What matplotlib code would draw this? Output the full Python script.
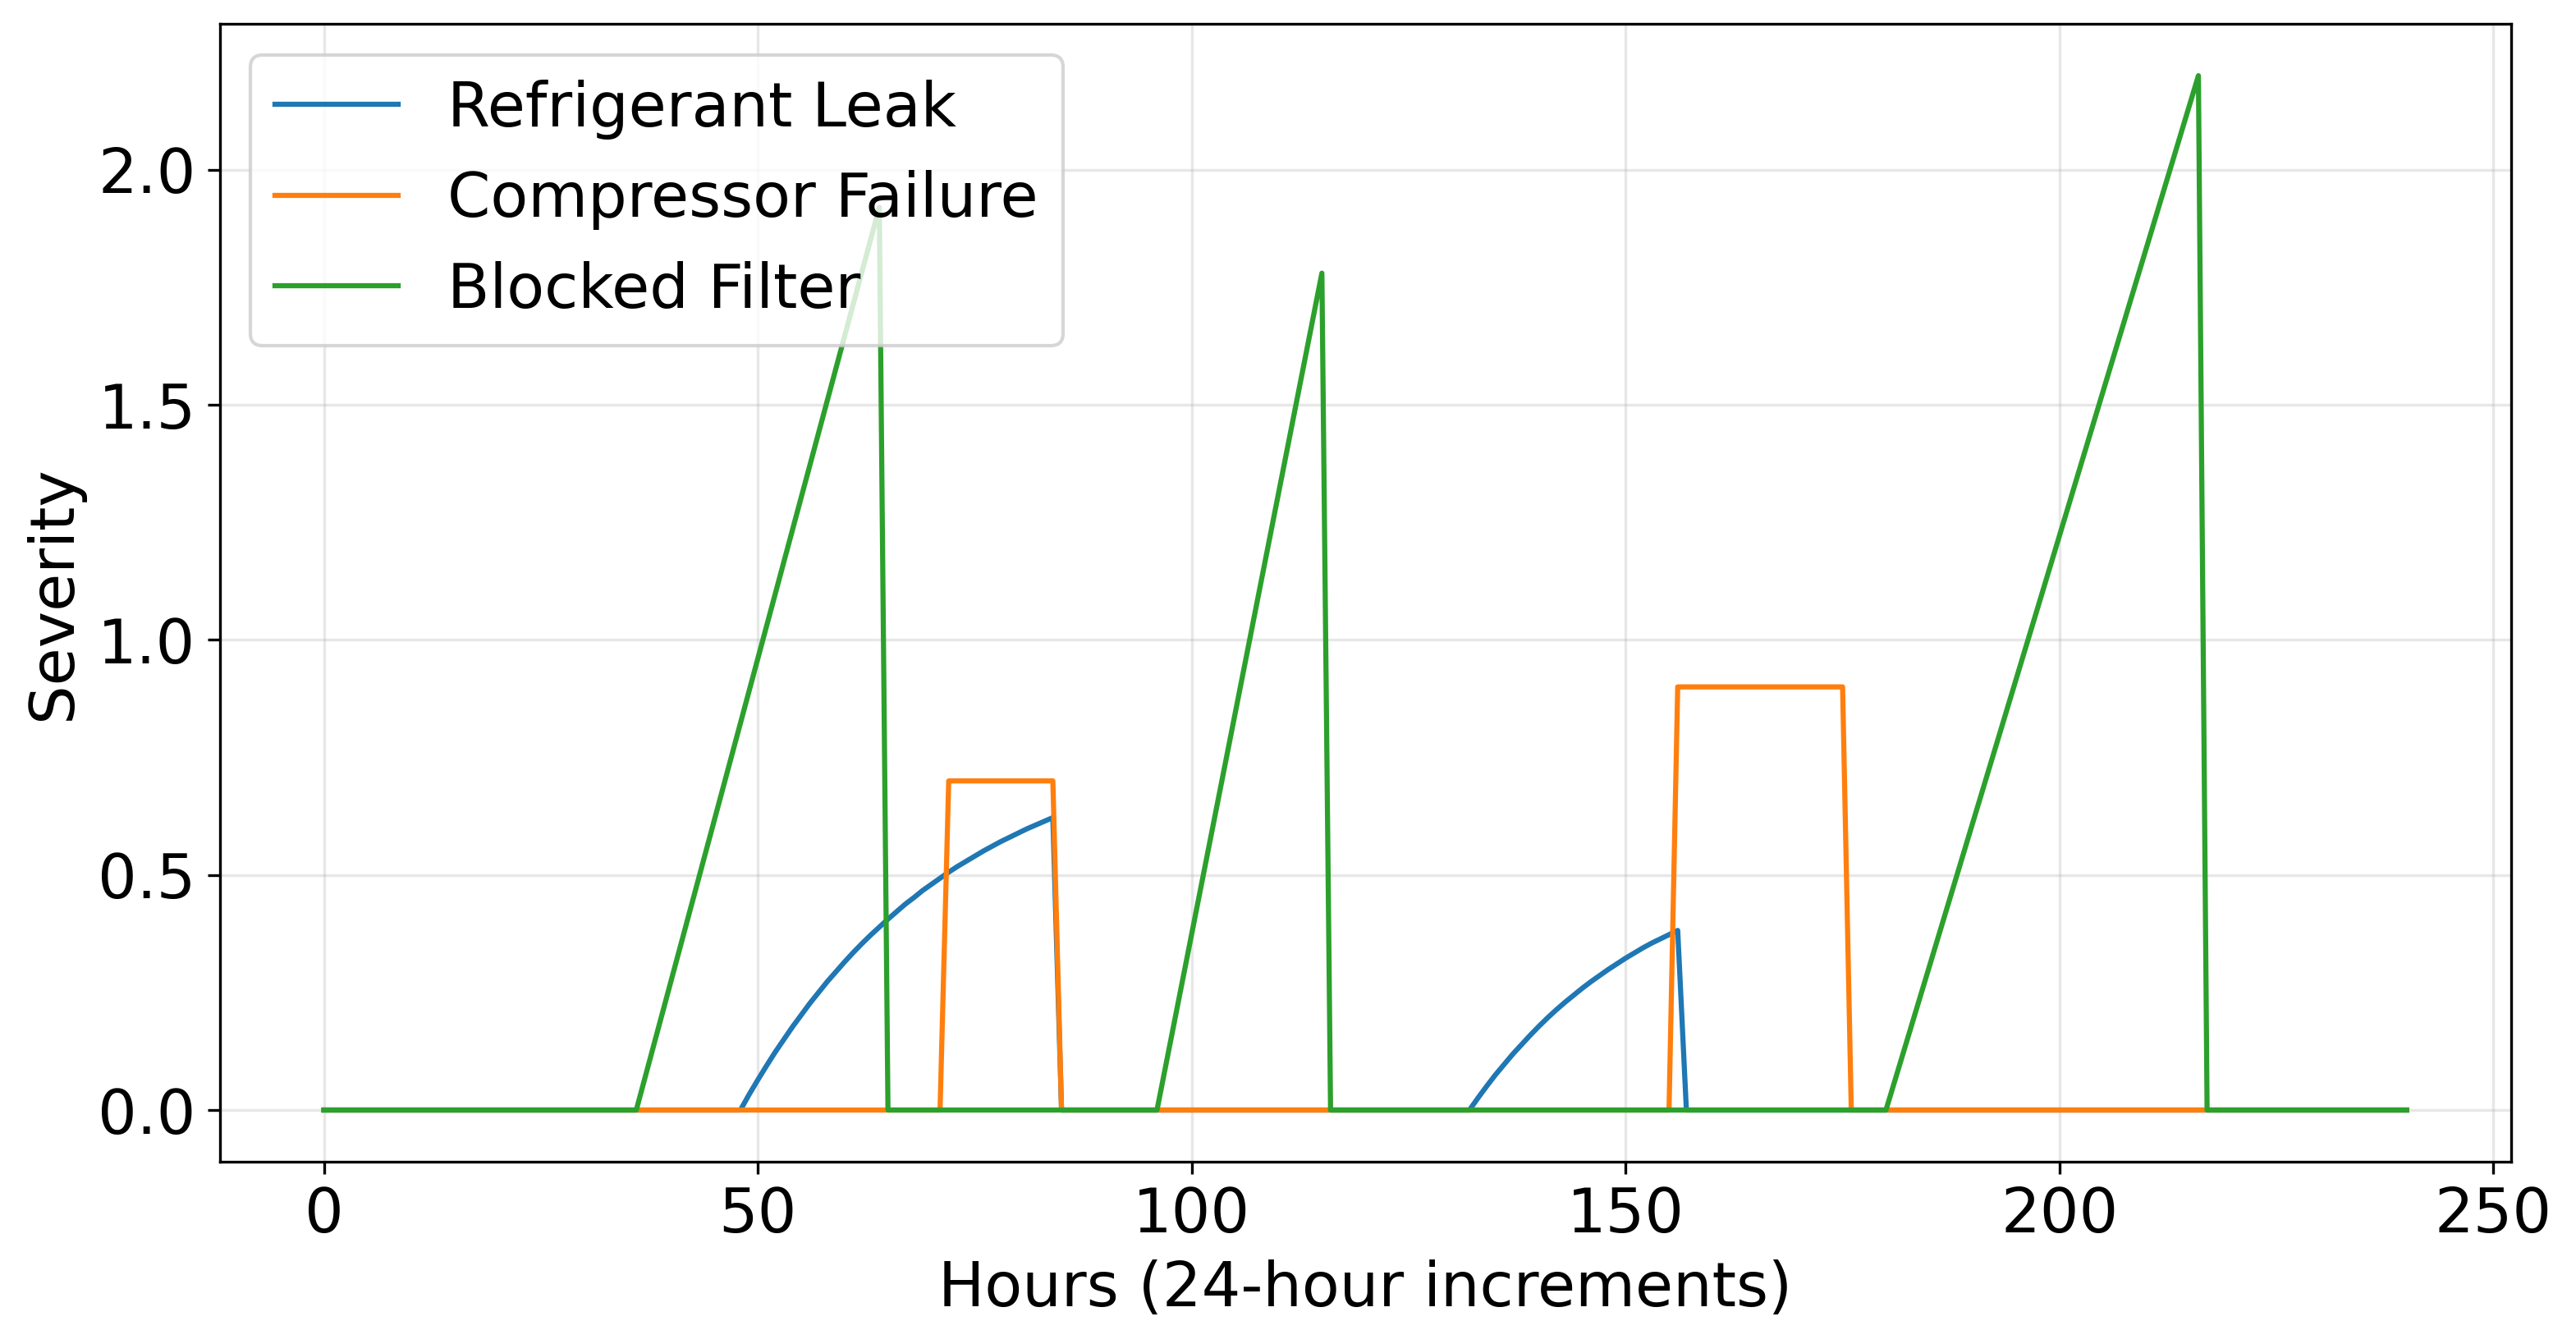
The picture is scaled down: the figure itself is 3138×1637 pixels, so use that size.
import matplotlib
matplotlib.use("Agg")
import matplotlib.pyplot as plt

# severity, hourly where the trace is curved
leak_hours = ([0] + list(range(48, 86)) + list(range(132, 158)) + [240])
leak_severity = ([0, 0,
                  0.033, 0.064, 0.094, 0.123, 0.150, 0.177, 0.202, 0.227, 0.250,
                  0.273, 0.294, 0.315, 0.335, 0.354, 0.372, 0.389, 0.406, 0.422,
                  0.438, 0.452, 0.467, 0.480, 0.493, 0.506, 0.518, 0.529, 0.540,
                  0.551, 0.561, 0.571, 0.580, 0.589, 0.598, 0.606, 0.614, 0.622,
                  0]
                 + [0,
                    0.026, 0.051, 0.075, 0.097, 0.119, 0.139, 0.159, 0.178, 0.196,
                    0.213, 0.229, 0.244, 0.259, 0.273, 0.286, 0.299, 0.311, 0.323,
                    0.334, 0.345, 0.355, 0.364, 0.373, 0.382,
                    0]
                 + [0])

compressor_hours = [0, 71, 72, 84, 85, 155, 156, 175, 176, 240]
compressor_severity = [0, 0, 0.7, 0.7, 0, 0, 0.9, 0.9, 0, 0]

filter_hours = [0, 36, 64, 65, 96, 115, 116, 180, 216, 217, 240]
filter_severity = [0, 0, 1.92, 0, 0, 1.78, 0, 0, 2.2, 0, 0]

labels = ["Refrigerant Leak", "Compressor Failure", "Blocked Filter"]


def main():
    plt.rcParams["font.size"] = 18

    fig = plt.figure(figsize=(10.46, 5.457), dpi=300)
    ax = fig.add_subplot(1, 1, 1)
    fig.subplots_adjust(left=0.0853, right=0.9747, bottom=0.1356, top=0.9821)

    ax.plot(leak_hours, leak_severity, label=labels[0], linewidth=1.5)
    ax.plot(compressor_hours, compressor_severity, label=labels[1], linewidth=1.5)
    ax.plot(filter_hours, filter_severity, label=labels[2], linewidth=1.5)

    ax.set_xlabel("Hours (24-hour increments)")
    ax.set_ylabel("Severity")
    ax.grid(True, alpha=0.3)
    ax.legend(loc="upper left")

    fig.savefig("out.png", dpi=300)


if __name__ == "__main__":
    main()
